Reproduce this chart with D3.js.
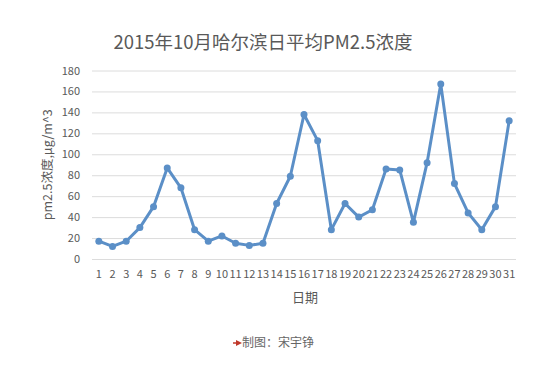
<!DOCTYPE html>
<html><head><meta charset="utf-8">
<script src="https://cdn.jsdelivr.net/npm/d3@7/dist/d3.min.js"></script>
<style>body{margin:0;background:#fff}svg{display:block}text{font-family:"Noto Sans CJK SC","Microsoft YaHei",sans-serif}</style>
</head><body><svg id="c" width="550" height="379"></svg>
<script>
const days = d3.range(1, 32).map(String);
const pm25 = [17,12,17,30,50,87,68,28,17,22,15,13,15,53,79,138,113,28,53,40,47,86,85,35,92,167,72,44,28,50,132];
const yTicks = [0,20,40,60,80,100,120,140,160,180];
const title = "2015年10月哈尔滨日平均PM2.5浓度";
const yLabel = "pm2.5浓度,μg/m^3";
const xLabel = "日期";
const credit = "制图：宋宇铮";

const svg = d3.select("#c");
const L = 92, R = 516, T = 70.5, B = 259;
const x = d3.scaleBand().domain(days).range([L, R]);
const y = d3.scaleLinear().domain([0, 180]).range([B, T]);
const grey = "#595959";

svg.append("text").attr("x", 263).attr("y", 49).attr("text-anchor", "middle")
  .attr("font-size", 18.5).attr("fill", grey).text(title);

const ga = svg.append("g").attr("transform", `translate(${L},0)`)
  .call(d3.axisLeft(y).tickValues(yTicks).tickSize(-(R - L)).tickPadding(12));
ga.select(".domain").remove();
ga.selectAll(".tick line").attr("stroke", "#dcdcdc").attr("stroke-width", 1);
ga.selectAll(".tick text").attr("fill", grey).attr("font-size", 11).attr("font-family", "Noto Sans, sans-serif");

const gx = svg.append("g").attr("transform", `translate(0,${B})`)
  .call(d3.axisBottom(x).tickSize(0).tickPadding(11));
gx.select(".domain").remove();
gx.selectAll(".tick text").attr("fill", grey).attr("font-size", 11).attr("font-family", "Noto Sans, sans-serif");

svg.append("text").attr("transform", `translate(52,${(T + B) / 2}) rotate(-90)`)
  .attr("text-anchor", "middle").attr("font-size", 12.5).attr("fill", grey).text(yLabel);
svg.append("text").attr("x", 305).attr("y", 302).attr("text-anchor", "middle")
  .attr("font-size", 13).attr("fill", grey).text(xLabel);

const cx = (d, i) => x(days[i]) + x.bandwidth() / 2;
const line = d3.line().x((d, i) => cx(d, i)).y(d => y(d));
svg.append("path").datum(pm25).attr("d", line).attr("fill", "none")
  .attr("stroke", "#5b8fc7").attr("stroke-width", 3).attr("stroke-linejoin", "round");
svg.selectAll("circle.pt").data(pm25).join("circle").attr("class", "pt")
  .attr("cx", cx).attr("cy", d => y(d)).attr("r", 3.5).attr("fill", "#5b8fc7");

svg.append("path").attr("d", "M236,340 L242,343 L236,346 Z").attr("fill", "#c0392b");
svg.append("line").attr("x1", 233).attr("x2", 240).attr("y1", 343).attr("y2", 343).attr("stroke", "#c0392b").attr("stroke-width", 1.5);
svg.append("text").attr("x", 242).attr("y", 347).attr("font-size", 12).attr("fill", "#666").text(credit);
</script></body></html>
